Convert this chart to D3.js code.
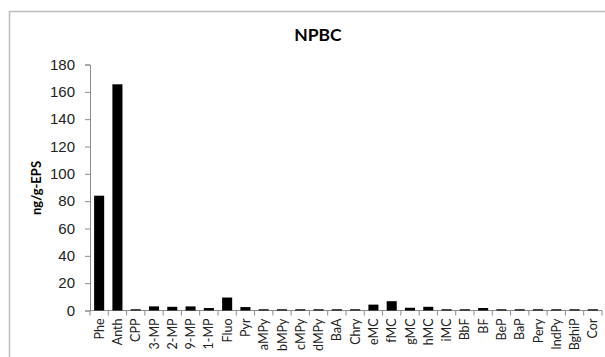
<!DOCTYPE html>
<html>
<head>
<meta charset="utf-8">
<script src="https://cdn.jsdelivr.net/npm/d3@7"></script>
<style>
  html, body { margin: 0; padding: 0; background: #fff; }
  svg { display: block; font-family: Lato, "Open Sans", "Liberation Sans", sans-serif; }
</style>
</head>
<body>
<svg id="chart" width="605" height="357"></svg>
<script>
// PAH concentrations per compound
const compounds = ["Phe", "Anth", "CPP", "3-MP", "2-MP", "9-MP", "1-MP", "Fluo", "Pyr",
  "aMPy", "bMPy", "cMPy", "dMPy", "BaA", "Chry", "eMC", "fMC", "gMC", "hMC", "iMC",
  "BbF", "BF", "BeP", "BaP", "Pery", "IndPy", "BghiP", "Cor"];
const concentrations = [84, 165.5, 0.9, 3, 2.7, 3, 1.8, 9.5, 2.5,
  0.9, 0.9, 0.9, 0.9, 0.9, 0.9, 4.3, 6.8, 2, 2.7, 0.9,
  0.9, 1.8, 0.9, 0.9, 0.9, 0.9, 0.9, 0.9];
const yTicks = [0, 20, 40, 60, 80, 100, 120, 140, 160, 180];
const chartTitle = "NPBC";
const yTitle = "ng/g-EPS";

const svg = d3.select("#chart");
const left = 90, right = 602;

// outer frame
svg.append("rect")
  .attr("x", 9.5).attr("y", 11.5)
  .attr("width", 640).attr("height", 400)
  .attr("fill", "none").attr("stroke", "#bdbdbd").attr("stroke-width", 1.5);

const x = d3.scaleBand()
  .domain(compounds)
  .range([left, right])
  .paddingInner(0.45).paddingOuter(0.225);

const y = d3.scaleLinear()
  .domain([0, 180])
  .range([310.5, 64.5]);

// x axis line and boundary ticks (drawn under the bars)
const xAxis = svg.append("g").attr("transform", `translate(0,${y(0)})`);
xAxis.append("line")
  .attr("x1", left).attr("x2", right)
  .attr("stroke", "#8c8c8c");
const step = x.step();
xAxis.selectAll("line.tk")
  .data(d3.range(compounds.length + 1))
  .join("line")
  .attr("class", "tk")
  .attr("x1", i => left + i * step)
  .attr("x2", i => left + i * step)
  .attr("y1", 0).attr("y2", 5)
  .attr("stroke", "#8c8c8c");
xAxis.selectAll("text")
  .data(compounds)
  .join("text")
  .attr("transform", d => `translate(${x(d) + x.bandwidth() / 2 + 4.5},8) rotate(-90)`)
  .attr("text-anchor", "end")
  .attr("font-size", "12.5px")
  .attr("fill", "#222")
  .text(d => d);

// bars
svg.append("g").selectAll("rect")
  .data(compounds.map((c, i) => ({ c, v: concentrations[i] })))
  .join("rect")
  .attr("x", d => x(d.c))
  .attr("width", x.bandwidth())
  .attr("y", d => y(d.v))
  .attr("height", d => y(0) - y(d.v))
  .attr("fill", "#000");

// y axis
const yAxis = svg.append("g")
  .attr("transform", `translate(${left},0)`)
  .call(d3.axisLeft(y).tickValues(yTicks).tickSize(5).tickPadding(10));
yAxis.select(".domain").attr("stroke", "#8c8c8c");
yAxis.selectAll(".tick line").attr("stroke", "#8c8c8c");
yAxis.selectAll(".tick text").attr("font-size", "15px").attr("fill", "#222");

// titles
svg.append("text")
  .attr("x", 318).attr("y", 41)
  .attr("text-anchor", "middle")
  .attr("font-size", "17.5px").attr("font-weight", "bold")
  .text(chartTitle);

svg.append("text")
  .attr("transform", "translate(41,188) rotate(-90)")
  .attr("text-anchor", "middle")
  .attr("font-size", "13px").attr("font-weight", "bold")
  .text(yTitle);
</script>
</body>
</html>
